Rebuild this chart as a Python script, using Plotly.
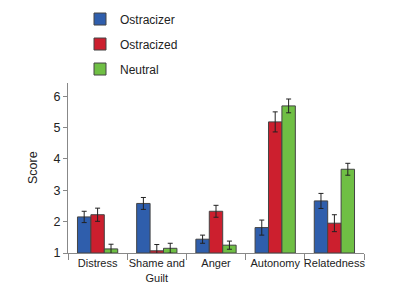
import plotly.graph_objects as go

categories = ["Distress", "Shame and<br>Guilt", "Anger", "Autonomy", "Relatedness"]
ostracizer = [2.15, 2.58, 1.44, 1.81, 2.66]
ostracizer_err = [0.18, 0.19, 0.13, 0.24, 0.24]
ostracized = [2.22, 1.07, 2.33, 5.18, 1.95]
ostracized_err = [0.21, 0.20, 0.19, 0.32, 0.27]
neutral = [1.13, 1.15, 1.25, 5.69, 3.67]
neutral_err = [0.15, 0.16, 0.13, 0.22, 0.19]

series = [
    ("Ostracizer", ostracizer, ostracizer_err, "#2f5eac"),
    ("Ostracized", ostracized, ostracized_err, "#cc1f2e"),
    ("Neutral", neutral, neutral_err, "#6fbf44"),
]

FONT = "Liberation Sans Narrow, Arial Narrow, Liberation Sans, Arial, sans-serif"

fig = go.Figure()
for i, (name, vals, errs, col) in enumerate(series):
    fig.add_trace(go.Bar(
        name=name, x=categories, y=[v - 1 for v in vals], base=1,
        marker=dict(color=col, line=dict(color="#444444", width=1)),
        error_y=dict(type="data", array=errs, color="#222222", thickness=1, width=2.5),
        legendgroup=f"g{i}",
    ))

fig.update_layout(
    width=400, height=302,
    margin=dict(l=68, r=36, t=83, b=49, autoexpand=False),
    paper_bgcolor="white", plot_bgcolor="white",
    barmode="group", bargap=0.32, bargroupgap=0,
    font=dict(family=FONT, size=12, color="#222222"),
    showlegend=True,
    legend=dict(x=0.2, xref="container", y=0.985, yref="container",
                xanchor="left", yanchor="top", orientation="v",
                font=dict(size=12), tracegroupgap=6, bgcolor="rgba(0,0,0,0)"),
    xaxis=dict(showline=True, linecolor="#888888", linewidth=1, ticks="outside",
               ticklen=6, tickcolor="#888888", tickson="boundaries", showgrid=False,
               tickangle=0, automargin=False, tickfont=dict(size=11)),
    yaxis=dict(range=[1, 6.42], showline=True, linecolor="#888888", linewidth=1,
               ticks="outside", ticklen=4, tickcolor="#888888", dtick=1, tick0=1,
               showgrid=False, zeroline=False, automargin=False, tickfont=dict(size=12.5)),
    annotations=[dict(text="Score", x=-0.118, y=0.5, xref="paper", yref="paper",
                      xanchor="center", yanchor="middle",
                      showarrow=False, textangle=-90, font=dict(size=12.5))],
)

fig.write_html("out.html")
